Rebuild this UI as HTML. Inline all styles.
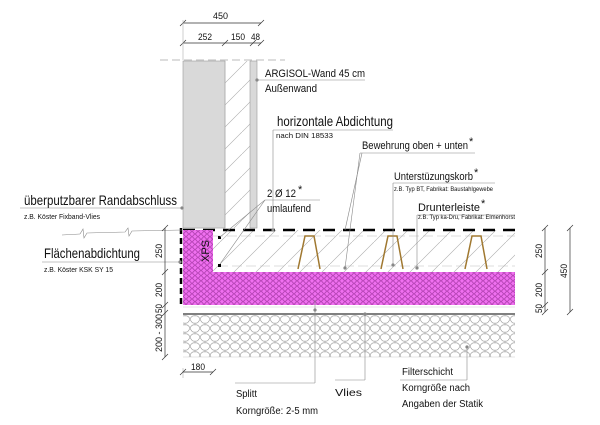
<!DOCTYPE html>
<html><head><meta charset="utf-8"><style>
html,body{margin:0;padding:0;background:#fff;width:600px;height:425px;overflow:hidden}
text{font-family:"Liberation Sans",sans-serif;fill:#111}
</style></head><body>
<svg width="600" height="425" viewBox="0 0 600 425" xmlns="http://www.w3.org/2000/svg">
<defs>
<pattern id="hex" width="6" height="5.2" patternUnits="userSpaceOnUse">
<rect width="6" height="5.2" fill="#f070f0"/>
<circle cx="0" cy="0" r="2.3" fill="none" stroke="#b040b0" stroke-width="0.5"/>
<circle cx="6" cy="0" r="2.3" fill="none" stroke="#b040b0" stroke-width="0.5"/>
<circle cx="3" cy="2.6" r="2.3" fill="none" stroke="#b040b0" stroke-width="0.5"/>
<circle cx="0" cy="5.2" r="2.3" fill="none" stroke="#b040b0" stroke-width="0.5"/>
<circle cx="6" cy="5.2" r="2.3" fill="none" stroke="#b040b0" stroke-width="0.5"/>
</pattern>
<pattern id="grav" width="10" height="9" patternUnits="userSpaceOnUse">
<rect width="10" height="9" fill="#fff"/>
<path d="M0 4 Q2 0 5 1 Q8 0 10 4 M0 4 Q2 9 5 8 Q8 9 10 4 M5 1 L5 -1 M5 8 L5 10" fill="none" stroke="#999" stroke-width="0.6"/>
</pattern>
<pattern id="hatch" width="22" height="22" patternUnits="userSpaceOnUse">
<path d="M0 22 L22 0" stroke="#aaa" stroke-width="0.6"/>
</pattern>
</defs>

<line x1="160" y1="60" x2="285" y2="60" stroke="#bbb" stroke-dasharray="8,4"/>
<rect x="183" y="61" width="42" height="167" fill="#d9d9d9" stroke="#999" stroke-width="0.6"/>
<rect x="225" y="61" width="25" height="167" fill="url(#hatch)"/>
<line x1="225" y1="61" x2="225" y2="228" stroke="#aaa" stroke-width="0.6"/>
<rect x="250" y="61" width="7" height="167" fill="#d9d9d9" stroke="#999" stroke-width="0.6"/>

<rect x="213" y="230" width="302" height="42" fill="url(#hatch)"/>
<line x1="213" y1="236" x2="515" y2="236" stroke="#bbb" stroke-dasharray="10,4" stroke-width="0.6"/>
<line x1="218" y1="266" x2="515" y2="266" stroke="#bbb" stroke-dasharray="10,4" stroke-width="0.6"/>
<line x1="183" y1="230" x2="515" y2="230" stroke="#000" stroke-width="2.5" stroke-dasharray="12,8"/>
<rect x="183" y="230" width="30" height="42" fill="url(#hex)"/>
<rect x="183" y="272" width="332" height="33" fill="url(#hex)"/>
<text x="0" y="0" font-size="11" transform="translate(209,262) rotate(-90)">XPS</text>
<line x1="181" y1="228" x2="181" y2="305" stroke="#000" stroke-width="2.5" stroke-dasharray="6,4"/>
<line x1="183" y1="307" x2="515" y2="307" stroke="#ccc" stroke-width="0.6"/>
<line x1="183" y1="314" x2="515" y2="314" stroke="#000" stroke-width="1"/>
<rect x="183" y="315" width="332" height="42" fill="url(#grav)"/>
<line x1="183" y1="357" x2="515" y2="357" stroke="#ccc" stroke-width="0.6"/>
<rect x="218" y="236" width="3" height="3" fill="#000"/>
<rect x="218" y="264" width="3" height="3" fill="#000"/>
<g fill="none" stroke="#a07830" stroke-width="1.5">
<path d="M298 269 L305 236 L314 236 L320 269"/>
<path d="M381 269 L388 236 L397 236 L403 269"/>
<path d="M465 269 L472 236 L481 236 L487 269"/>
</g>

<g stroke="#333" stroke-width="0.7">
<line x1="183" y1="23" x2="261" y2="23"/><line x1="183" y1="43" x2="261" y2="43"/>
<path d="M180 26 L186 20 M258 26 L264 20 M180 46 L186 40 M222 46 L228 40 M250 46 L256 40 M258 46 L264 40"/>
<line x1="183" y1="20" x2="183" y2="60" stroke="#bbb"/>
</g>
<text x="213" y="19" font-size="9" textLength="15" lengthAdjust="spacingAndGlyphs">450</text>
<text x="198" y="40" font-size="9" textLength="14" lengthAdjust="spacingAndGlyphs">252</text>
<text x="231" y="40" font-size="9" textLength="14" lengthAdjust="spacingAndGlyphs">150</text>
<text x="251" y="40" font-size="9" textLength="9" lengthAdjust="spacingAndGlyphs">48</text>

<g stroke="#888" stroke-width="0.6" fill="none">
<line x1="257" y1="80" x2="365" y2="80"/>
<line x1="273" y1="130" x2="393" y2="130"/><line x1="273" y1="130" x2="273" y2="230"/>
<line x1="360" y1="153" x2="475" y2="153"/><line x1="360" y1="153" x2="345" y2="268"/><line x1="362" y1="153" x2="345" y2="230"/>
<line x1="393" y1="183" x2="495" y2="183"/><line x1="393" y1="183" x2="393" y2="265"/>
<line x1="417" y1="215" x2="515" y2="215"/><line x1="417" y1="215" x2="417" y2="268"/>
<line x1="265" y1="200" x2="320" y2="200"/><line x1="265" y1="200" x2="220" y2="237"/><line x1="265" y1="200" x2="220" y2="264"/>
<line x1="20" y1="208" x2="182" y2="208"/>
<line x1="62" y1="235" x2="80" y2="234"/><path d="M80 234 L83 229 L84 238 L87 233 L125 232 L128 228 L129 236 L132 231 L182 230"/>
<line x1="42" y1="262" x2="180" y2="262"/>
<line x1="315" y1="300" x2="315" y2="383"/><line x1="235" y1="383" x2="315" y2="383"/>
<line x1="365" y1="314" x2="365" y2="380"/><line x1="335" y1="380" x2="365" y2="380"/>
<line x1="467" y1="347" x2="467" y2="380"/><line x1="400" y1="380" x2="467" y2="380"/>
</g>
<g fill="#888"><circle cx="257" cy="80" r="1.6"/><circle cx="273" cy="230" r="1.6"/><circle cx="345" cy="268" r="1.6"/><circle cx="393" cy="265" r="1.6"/><circle cx="417" cy="268" r="1.6"/><circle cx="182" cy="208" r="1.6"/><circle cx="180" cy="262" r="1.6"/><circle cx="315" cy="310" r="1.6"/><circle cx="365" cy="314" r="1.6"/><circle cx="467" cy="347" r="1.6"/></g>

<text x="265" y="77" font-size="11" textLength="100" lengthAdjust="spacingAndGlyphs">ARGISOL-Wand 45 cm</text>
<text x="265" y="92" font-size="11" textLength="52" lengthAdjust="spacingAndGlyphs">Außenwand</text>
<text x="277" y="126" font-size="14" textLength="116" lengthAdjust="spacingAndGlyphs">horizontale Abdichtung</text>
<text x="276" y="138" font-size="7.5" textLength="57" lengthAdjust="spacingAndGlyphs">nach DIN 18533</text>
<text x="362" y="149" font-size="11" textLength="106" lengthAdjust="spacingAndGlyphs">Bewehrung oben + unten</text><text x="469" y="145" font-size="11">*</text>
<text x="394" y="180" font-size="11" textLength="79" lengthAdjust="spacingAndGlyphs">Unterstüzungskorb</text><text x="474" y="176" font-size="11">*</text>
<text x="394" y="191" font-size="6.5" textLength="99" lengthAdjust="spacingAndGlyphs">z.B. Typ BT, Fabrikat: Baustahlgewebe</text>
<text x="418" y="211" font-size="11" textLength="62" lengthAdjust="spacingAndGlyphs">Drunterleiste</text><text x="481" y="207" font-size="11">*</text>
<text x="418" y="219" font-size="6.5" textLength="97" lengthAdjust="spacingAndGlyphs">z.B. Typ ka-Dru, Fabrikat: Elmenhorst</text>
<text x="267" y="197" font-size="11" textLength="29" lengthAdjust="spacingAndGlyphs">2 Ø 12</text><text x="298" y="193" font-size="11">*</text>
<text x="267" y="212" font-size="11" textLength="44" lengthAdjust="spacingAndGlyphs">umlaufend</text>
<text x="24" y="205" font-size="14" textLength="153" lengthAdjust="spacingAndGlyphs">überputzbarer Randabschluss</text>
<text x="24" y="219" font-size="7.5" textLength="76" lengthAdjust="spacingAndGlyphs">z.B. Köster Fixband-Vlies</text>
<text x="44" y="258" font-size="14" textLength="96" lengthAdjust="spacingAndGlyphs">Flächenabdichtung</text>
<text x="44" y="272" font-size="7.5" textLength="69" lengthAdjust="spacingAndGlyphs">z.B. Köster KSK SY 15</text>
<text x="236" y="397" font-size="10" textLength="21" lengthAdjust="spacingAndGlyphs">Splitt</text>
<text x="236" y="414" font-size="10" textLength="82" lengthAdjust="spacingAndGlyphs">Korngröße: 2-5 mm</text>
<text x="335" y="396" font-size="10" textLength="27" lengthAdjust="spacingAndGlyphs">Vlies</text>
<text x="402" y="375" font-size="10" textLength="51" lengthAdjust="spacingAndGlyphs">Filterschicht</text>
<text x="402" y="391" font-size="10" textLength="68" lengthAdjust="spacingAndGlyphs">Korngröße nach</text>
<text x="402" y="407" font-size="10" textLength="81" lengthAdjust="spacingAndGlyphs">Angaben der Statik</text>

<g stroke="#333" stroke-width="0.7">
<line x1="165" y1="228" x2="165" y2="357"/>
<path d="M162 231 L168 225 M162 275 L168 269 M162 308 L168 302 M162 316 L168 310 M162 360 L168 354"/>
<line x1="183" y1="368" x2="183" y2="378" stroke="#bbb"/>
<line x1="183" y1="372" x2="213" y2="372"/>
<path d="M180 375 L186 369 M210 375 L216 369"/>
<line x1="545" y1="228" x2="545" y2="312"/><line x1="570" y1="228" x2="570" y2="312"/>
<path d="M542 231 L548 225 M542 275 L548 269 M542 308 L548 302 M542 315 L548 309 M567 231 L573 225 M567 315 L573 309"/>
</g>
<g font-size="9">
<text transform="translate(162,258) rotate(-90)" textLength="14" lengthAdjust="spacingAndGlyphs">250</text>
<text transform="translate(162,297) rotate(-90)" textLength="14" lengthAdjust="spacingAndGlyphs">200</text>
<text transform="translate(162,313) rotate(-90)" textLength="9" lengthAdjust="spacingAndGlyphs">50</text>
<text transform="translate(162,352) rotate(-90)" textLength="38" lengthAdjust="spacingAndGlyphs">200 - 300</text>
<text x="191" y="370" textLength="14" lengthAdjust="spacingAndGlyphs">180</text>
<text transform="translate(542,258) rotate(-90)" textLength="14" lengthAdjust="spacingAndGlyphs">250</text>
<text transform="translate(542,297) rotate(-90)" textLength="14" lengthAdjust="spacingAndGlyphs">200</text>
<text transform="translate(542,313) rotate(-90)" textLength="9" lengthAdjust="spacingAndGlyphs">50</text>
<text transform="translate(567,278) rotate(-90)" textLength="14" lengthAdjust="spacingAndGlyphs">450</text>
</g>
</svg>
</body></html>
